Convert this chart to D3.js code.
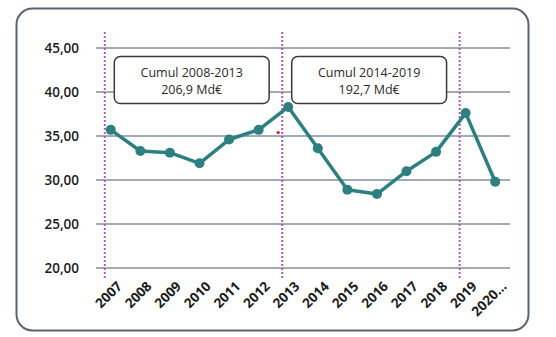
<!DOCTYPE html>
<html>
<head>
<meta charset="utf-8">
<script src="https://cdn.jsdelivr.net/npm/d3@7"></script>
<style>
  body { margin: 0; background: #fff; }
  svg text { font-family: "Open Sans", sans-serif; }
</style>
</head>
<body>
<div id="chart"></div>
<script>
// years and amounts (Md€)
var years = ["2007", "2008", "2009", "2010", "2011", "2012", "2013", "2014", "2015", "2016", "2017", "2018", "2019", "2020..."];
var amounts = [35.7, 33.3, 33.1, 31.9, 34.6, 35.7, 38.3, 33.6, 28.9, 28.4, 31.0, 33.2, 37.6, 29.8];
var yTicks = [20, 25, 30, 35, 40, 45];
var periodMarks = ["2007", "2013", "2019"];
var notes = [
    { from: "2007", to: "2012", lines: ["Cumul 2008-2013", "206,9 Md€"] },
    { from: "2013", to: "2018", lines: ["Cumul 2014-2019", "192,7 Md€"] }
];

var svgWidth = 556;
var svgHeight = 337;

var svg = d3.select("#chart")
    .append("svg")
    .attr("width", svgWidth)
    .attr("height", svgHeight);

// rounded frame round the whole chart
svg.append("rect")
    .attr("x", 16.5)
    .attr("y", 8.5)
    .attr("width", 512)
    .attr("height", 322)
    .attr("rx", 16)
    .attr("fill", "none")
    .attr("stroke", "#5b6272")
    .attr("stroke-width", 2);

var x = d3.scaleBand()
    .domain(years)
    .range([96, 510]);

var y = d3.scaleLinear()
    .domain([20, 45])
    .range([268, 48]);

var mid = d => x(d) + x.bandwidth() / 2;
var fmt = function(d) { return d3.format(".2f")(d).replace(".", ","); };

// horizontal grid lines
svg.append("g")
    .selectAll("line")
    .data(yTicks)
    .enter().append("line")
    .attr("x1", 96)
    .attr("x2", 510)
    .attr("y1", d => y(d))
    .attr("y2", d => y(d))
    .attr("stroke", "#a3a9b7")
    .attr("stroke-width", 2);

// y labels
svg.append("g")
    .selectAll("text")
    .data(yTicks)
    .enter().append("text")
    .attr("x", 79)
    .attr("y", d => y(d))
    .attr("dy", "0.35em")
    .attr("text-anchor", "end")
    .attr("font-size", 13.5)
    .attr("font-weight", 600)
    .attr("fill", "#1a1a1a")
    .text(fmt);

// dotted period separators
svg.append("g")
    .selectAll("line")
    .data(periodMarks)
    .enter().append("line")
    .attr("x1", d => mid(d) - 6)
    .attr("x2", d => mid(d) - 6)
    .attr("y1", 32)
    .attr("y2", 278)
    .attr("stroke", "#b05cb5")
    .attr("stroke-width", 2)
    .attr("stroke-dasharray", "2,2");

// x labels, rotated
svg.append("g")
    .selectAll("text")
    .data(years)
    .enter().append("text")
    .attr("transform", d => `translate(${mid(d) + 5}, 280) rotate(-45)`)
    .attr("text-anchor", "end")
    .attr("dy", "0.75em")
    .attr("font-size", 13.5)
    .attr("font-weight", 700)
    .attr("fill", "#1a1a1a")
    .text(d => d);

// the line and its points
var line = d3.line()
    .x((d, i) => mid(years[i]))
    .y(d => y(d));

svg.append("path")
    .datum(amounts)
    .attr("d", line)
    .attr("fill", "none")
    .attr("stroke", "#2d7f80")
    .attr("stroke-width", 3.5)
    .attr("stroke-linejoin", "round");

svg.append("g")
    .selectAll("circle")
    .data(amounts)
    .enter().append("circle")
    .attr("cx", (d, i) => mid(years[i]))
    .attr("cy", d => y(d))
    .attr("r", 5)
    .attr("fill", "#2d7f80");

// stray red marker
svg.append("circle")
    .attr("cx", mid("2013") - 10)
    .attr("cy", y(35.4))
    .attr("r", 1.6)
    .attr("fill", "#e02020");

// cumulative notes
var noteG = svg.append("g")
    .selectAll("g")
    .data(notes)
    .enter().append("g");

noteG.append("rect")
    .attr("x", d => mid(d.from) + 3.5)
    .attr("y", 56.5)
    .attr("width", d => mid(d.to) - mid(d.from) + 7)
    .attr("height", 47)
    .attr("rx", 6)
    .attr("fill", "#fff")
    .attr("stroke", "#3a3a3a")
    .attr("stroke-width", 1.5);

noteG.selectAll("text")
    .data(d => d.lines.map((t, i) => ({ t: t, i: i, cx: (mid(d.from) + mid(d.to)) / 2 + 7 })))
    .enter().append("text")
    .attr("x", d => d.cx)
    .attr("y", d => 73 + d.i * 17)
    .attr("dy", "0.35em")
    .attr("text-anchor", "middle")
    .attr("font-size", 12.5)
    .attr("fill", "#2a2a2a")
    .text(d => d.t);
</script>
</body>
</html>
